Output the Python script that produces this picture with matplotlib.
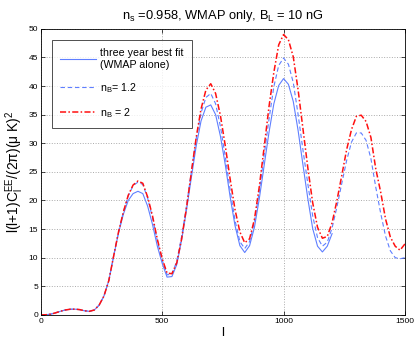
import numpy as np
import matplotlib
matplotlib.use('Agg')
import matplotlib.pyplot as plt

plt.rcParams['font.family'] = ['Liberation Sans', 'DejaVu Sans']
plt.rcParams['mathtext.fontset'] = 'custom'
plt.rcParams['mathtext.rm'] = 'Liberation Sans'
plt.rcParams['mathtext.it'] = 'Liberation Sans'

# multipole l, step 20
ell = np.arange(0, 1501, 20)
ell_fit = np.arange(0, 1201, 20)

# three year best fit (WMAP alone)
cl_fit = [0.0, 0.02, 0.12, 0.35, 0.62, 0.85, 0.98, 1.0, 0.92, 0.72,
          0.62, 0.85, 1.7, 3.3, 6.0, 10.3, 14.3, 17.6, 20.0, 21.2,
          21.6, 21.2, 19.0, 15.8, 12.0, 9.0, 6.6, 6.7, 8.8, 13.1,
          18.3, 24.0, 29.5, 33.9, 36.3, 36.7, 35.0, 31.2, 26.2, 20.6,
          15.6, 12.1, 10.9, 12.1, 15.3, 20.3, 26.1, 31.9, 36.9, 40.1,
          41.3, 40.3, 37.3, 32.2, 26.2, 20.3, 15.1, 12.0, 11.0, 12.0,
          14.2]

# n_B = 1.2
cl_nb12 = [0.0, 0.02, 0.12, 0.35, 0.62, 0.85, 0.98, 1.0, 0.92, 0.72,
           0.62, 0.85, 1.7, 3.3, 6.0, 10.3, 14.5, 18.0, 20.8, 22.6,
           23.2, 22.8, 20.4, 17.0, 12.9, 9.6, 7.0, 7.1, 9.4, 13.7,
           19.0, 25.0, 30.8, 35.3, 38.0, 38.7, 36.9, 32.9, 27.6, 21.8,
           16.5, 12.8, 11.6, 12.8, 16.3, 21.6, 27.9, 34.2, 39.9, 43.6,
           44.9, 43.8, 40.6, 35.0, 28.8, 22.9, 17.3, 13.5, 12.0, 12.7,
           15.2, 18.9, 23.0, 27.0, 30.2, 31.8, 31.8, 30.5, 27.3, 22.3,
           17.8, 13.8, 11.2, 10.0, 9.8, 10.0]

# n_B = 2
cl_nb2 = [0.0, 0.02, 0.12, 0.35, 0.62, 0.85, 0.98, 1.0, 0.92, 0.72,
          0.62, 0.85, 1.7, 3.3, 6.0, 10.3, 14.5, 18.0, 20.9, 22.7,
          23.4, 23.0, 20.6, 17.3, 13.2, 9.8, 7.3, 7.2, 9.1, 13.3,
          18.7, 24.9, 31.0, 36.0, 39.3, 40.4, 38.7, 34.8, 29.5, 23.7,
          18.4, 14.5, 12.6, 13.3, 16.7, 22.4, 29.3, 36.4, 42.4, 47.2,
          49.0, 48.1, 45.1, 39.3, 32.5, 25.7, 19.6, 15.3, 13.4, 13.7,
          16.1, 20.0, 24.4, 28.9, 32.4, 34.7, 34.9, 33.8, 31.0, 25.5,
          21.5, 16.8, 13.6, 12.0, 11.3, 12.4]

blue = '#5f7fff'
red = '#ff1010'

fig = plt.figure(figsize=(4.17, 3.43), dpi=100)
ax = fig.add_axes([0.098, 0.082, 0.873, 0.834])

ax.plot(ell_fit, cl_fit, color=blue, lw=0.8, label='three year best fit\n(WMAP alone)')
ax.plot(ell, cl_nb12, color=blue, lw=0.8, dashes=(4, 2.5), label=r'n$_{\rm B}$= 1.2')
ax.plot(ell, cl_nb2, color=red, lw=1.1, dashes=(4, 1.5, 1, 1.5), label=r'n$_{\rm B}$ = 2')

ax.set_xlim(0, 1500)
ax.set_ylim(0, 50)
ax.set_xticks([0, 500, 1000, 1500])
ax.set_yticks(np.arange(0, 51, 5))
ax.grid(True, linestyle=':', color='#aaaaaa', lw=0.7)
ax.tick_params(direction='in', top=True, right=True, labelsize=6, length=3, width=0.5, pad=2)
for s in ax.spines.values():
    s.set_linewidth(0.6)

ax.set_title(r'n$_{\rm s}$ =0.958, WMAP only, B$_{\rm L}$ = 10 nG', fontsize=9.3, pad=7)
ax.set_xlabel('l', fontsize=9.5, labelpad=2)
ax.set_ylabel(r'l(l+1)C$_{\rm l}^{\rm EE}$/(2$\pi$)($\mu$ K)$^2$', fontsize=10, labelpad=2)

leg = ax.legend(loc='upper left', bbox_to_anchor=(0.03, 0.962), borderaxespad=0,
                fontsize=7.7, frameon=True, fancybox=False, edgecolor='black',
                handlelength=3.3, borderpad=0.8, labelspacing=1.05, handletextpad=0.4)
leg.get_frame().set_linewidth(0.6)

fig.savefig('out.png', dpi=100)
